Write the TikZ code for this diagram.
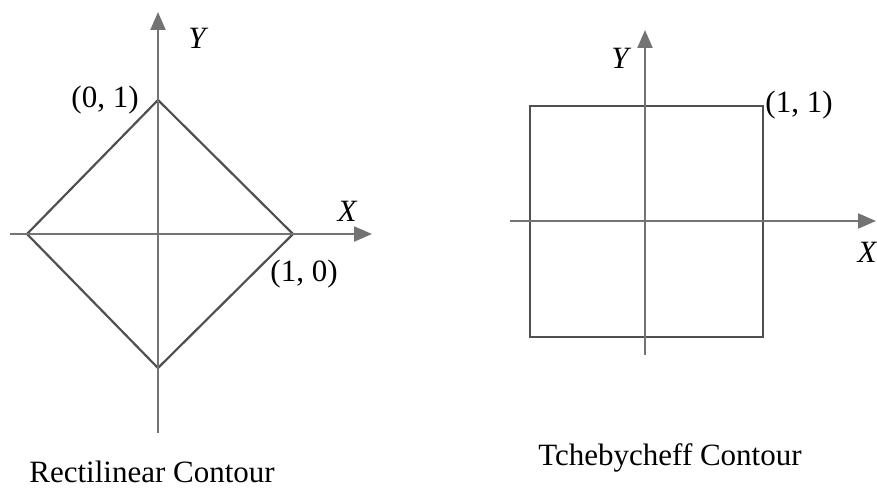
\documentclass[tikz,border=0pt]{standalone}
\usepackage{fontspec}
\setmainfont{Liberation Serif}
\usepackage{tikz}
\usetikzlibrary{
  arrows.meta,
  positioning,
}
\definecolor{axisCol}{HTML}{737373}
\definecolor{contourCol}{HTML}{505050}
\tikzset{
  axis/.style={
    -{Triangle[length=18pt,width=15pt]}, line width=2.2pt, draw=axisCol,
  },
  contour/.style={
    line width=2.2pt, draw=contourCol, line join=miter,
  },
  coordlabel/.style={
    inner sep=0pt, font=\fontsize{31}{36}\selectfont,
  },
  axislabel/.style={
    inner sep=0pt, font=\fontsize{31}{36}\selectfont\itshape,
  },
  caption/.style={
    inner sep=0pt, font=\fontsize{31}{36}\selectfont,
  },
}

\begin{document}
\begin{tikzpicture}[x=1pt,y=-1pt]
\useasboundingbox (0,0) rectangle (877,495);

% rectilinear contour
\coordinate (rXs) at (10,234);
\coordinate (rXe) at (372,234);
\coordinate (rYs) at (158,433);
\coordinate (rYe) at (158,12);
\coordinate (rTop) at (158,100);
\coordinate (rRight) at (293,234);
\coordinate (rBottom) at (158,368);
\coordinate (rLeft) at (27,234);

\draw[contour] (rTop) -- (rRight) -- (rBottom) -- (rLeft) -- cycle;
\draw[axis] (rXs) -- (rXe);
\draw[axis] (rYs) -- (rYe);

\node[axislabel] (rYlab) at (197,38) {Y};
\node[axislabel] (rXlab) at (347,211) {X};
\node[coordlabel] (rTopLab) at (105,100) {(0, 1)};
\node[coordlabel] (rRightLab) at (304,274) {(1, 0)};
\node[caption] (rCap) at (152,472) {Rectilinear Contour};

% tchebycheff contour
\coordinate (tXs) at (510,221);
\coordinate (tXe) at (876,221);
\coordinate (tYs) at (645,355);
\coordinate (tYe) at (645,30);
\coordinate (tLowLeft) at (530,337);
\coordinate (tUpRight) at (763,106);

\draw[contour] (tLowLeft) rectangle (tUpRight);
\draw[axis] (tXs) -- (tXe);
\draw[axis] (tYs) -- (tYe);

\node[axislabel] (tYlab) at (620,58) {Y};
\node[axislabel] (tXlab) at (867,252) {X};
\node[coordlabel] (tCornerLab) at (799,105) {(1, 1)};
\node[caption] (tCap) at (670,458) {Tchebycheff Contour};

\end{tikzpicture}
\end{document}
